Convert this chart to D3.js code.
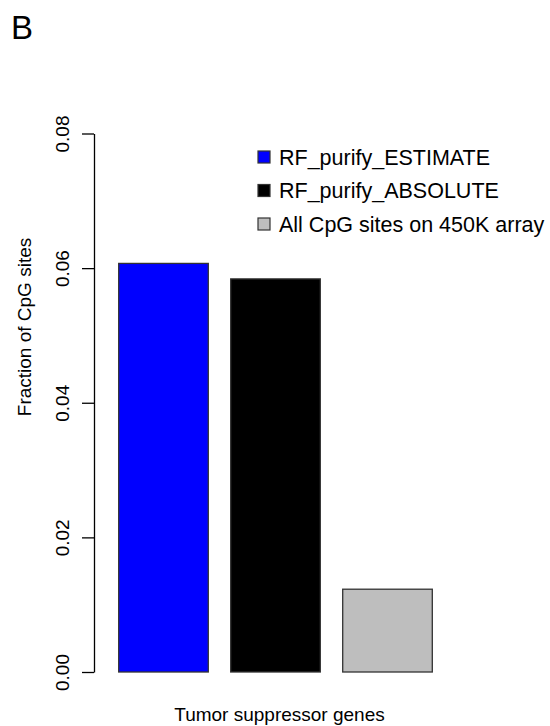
<!DOCTYPE html>
<html>
<head>
<meta charset="utf-8">
<script src="https://cdn.jsdelivr.net/npm/d3@7"></script>
<style>
  html, body { margin: 0; padding: 0; background: #fff; }
  svg { display: block; font-family: "Liberation Sans", Arial, Helvetica, sans-serif; }
</style>
</head>
<body>
<svg id="chart" width="550" height="726"></svg>
<script>
// Fraction of CpG sites falling in tumor suppressor genes
const categories = ["RF_purify_ESTIMATE", "RF_purify_ABSOLUTE", "All CpG sites on 450K array"];
const values = [0.0607, 0.0584, 0.0123];
const colors = ["#0000FF", "#000000", "#BEBEBE"];
const yTicks = [0, 0.02, 0.04, 0.06, 0.08];
const panelLabel = "B";
const xTitle = "Tumor suppressor genes";
const yTitle = "Fraction of CpG sites";

const svg = d3.select("#chart");

const y = d3.scaleLinear().domain([0, 0.08]).range([672, 133.5]);
const x = d3.scaleBand().domain(categories).range([107.5, 443.5])
  .paddingInner(0.2).paddingOuter(0.1);

// panel letter
svg.append("text").attr("x", 11).attr("y", 39)
  .attr("font-size", 33).attr("fill", "#000").text(panelLabel);

// bars
svg.append("g").selectAll("rect").data(categories).join("rect")
  .attr("x", d => x(d))
  .attr("width", x.bandwidth())
  .attr("y", (d, i) => y(values[i]))
  .attr("height", (d, i) => y(0) - y(values[i]))
  .attr("fill", (d, i) => colors[i])
  .attr("stroke", "#333")
  .attr("stroke-width", 1.3);

// y axis
const yAxis = svg.append("g").attr("transform", "translate(94,0)")
  .call(d3.axisLeft(y).tickValues(yTicks).tickFormat(d3.format(".2f"))
    .tickSize(12).tickSizeOuter(0));
yAxis.select(".domain").attr("stroke", "#000").attr("stroke-width", 1.3);
yAxis.selectAll(".tick line").attr("stroke", "#000").attr("stroke-width", 1.3);
yAxis.selectAll(".tick text")
  .attr("x", 0).attr("dy", 0)
  .attr("transform", "translate(-25,0) rotate(-90)")
  .attr("text-anchor", "middle")
  .attr("font-size", 19)
  .attr("font-family", "Liberation Sans, Arial, sans-serif")
  .attr("fill", "#000");

// axis titles
svg.append("text")
  .attr("transform", "translate(31,327) rotate(-90)")
  .attr("text-anchor", "middle").attr("font-size", 19).attr("fill", "#000")
  .text(yTitle);
svg.append("text")
  .attr("x", 279.5).attr("y", 721)
  .attr("text-anchor", "middle").attr("font-size", 19).attr("fill", "#000")
  .text(xTitle);

// legend
const legend = svg.append("g").attr("transform", "translate(258,0)");
const rowY = d3.scalePoint().domain(categories).range([157, 224]);
const rows = legend.selectAll("g").data(categories).join("g")
  .attr("transform", d => `translate(0,${rowY(d)})`);
rows.append("rect")
  .attr("x", 0).attr("y", -6).attr("width", 12).attr("height", 12)
  .attr("fill", (d, i) => colors[i]).attr("stroke", "#333").attr("stroke-width", 1.2);
rows.append("text")
  .attr("x", 21).attr("y", 0).attr("dy", "0.36em")
  .attr("font-size", 21.5).attr("fill", "#000")
  .text(d => d);
</script>
</body>
</html>
